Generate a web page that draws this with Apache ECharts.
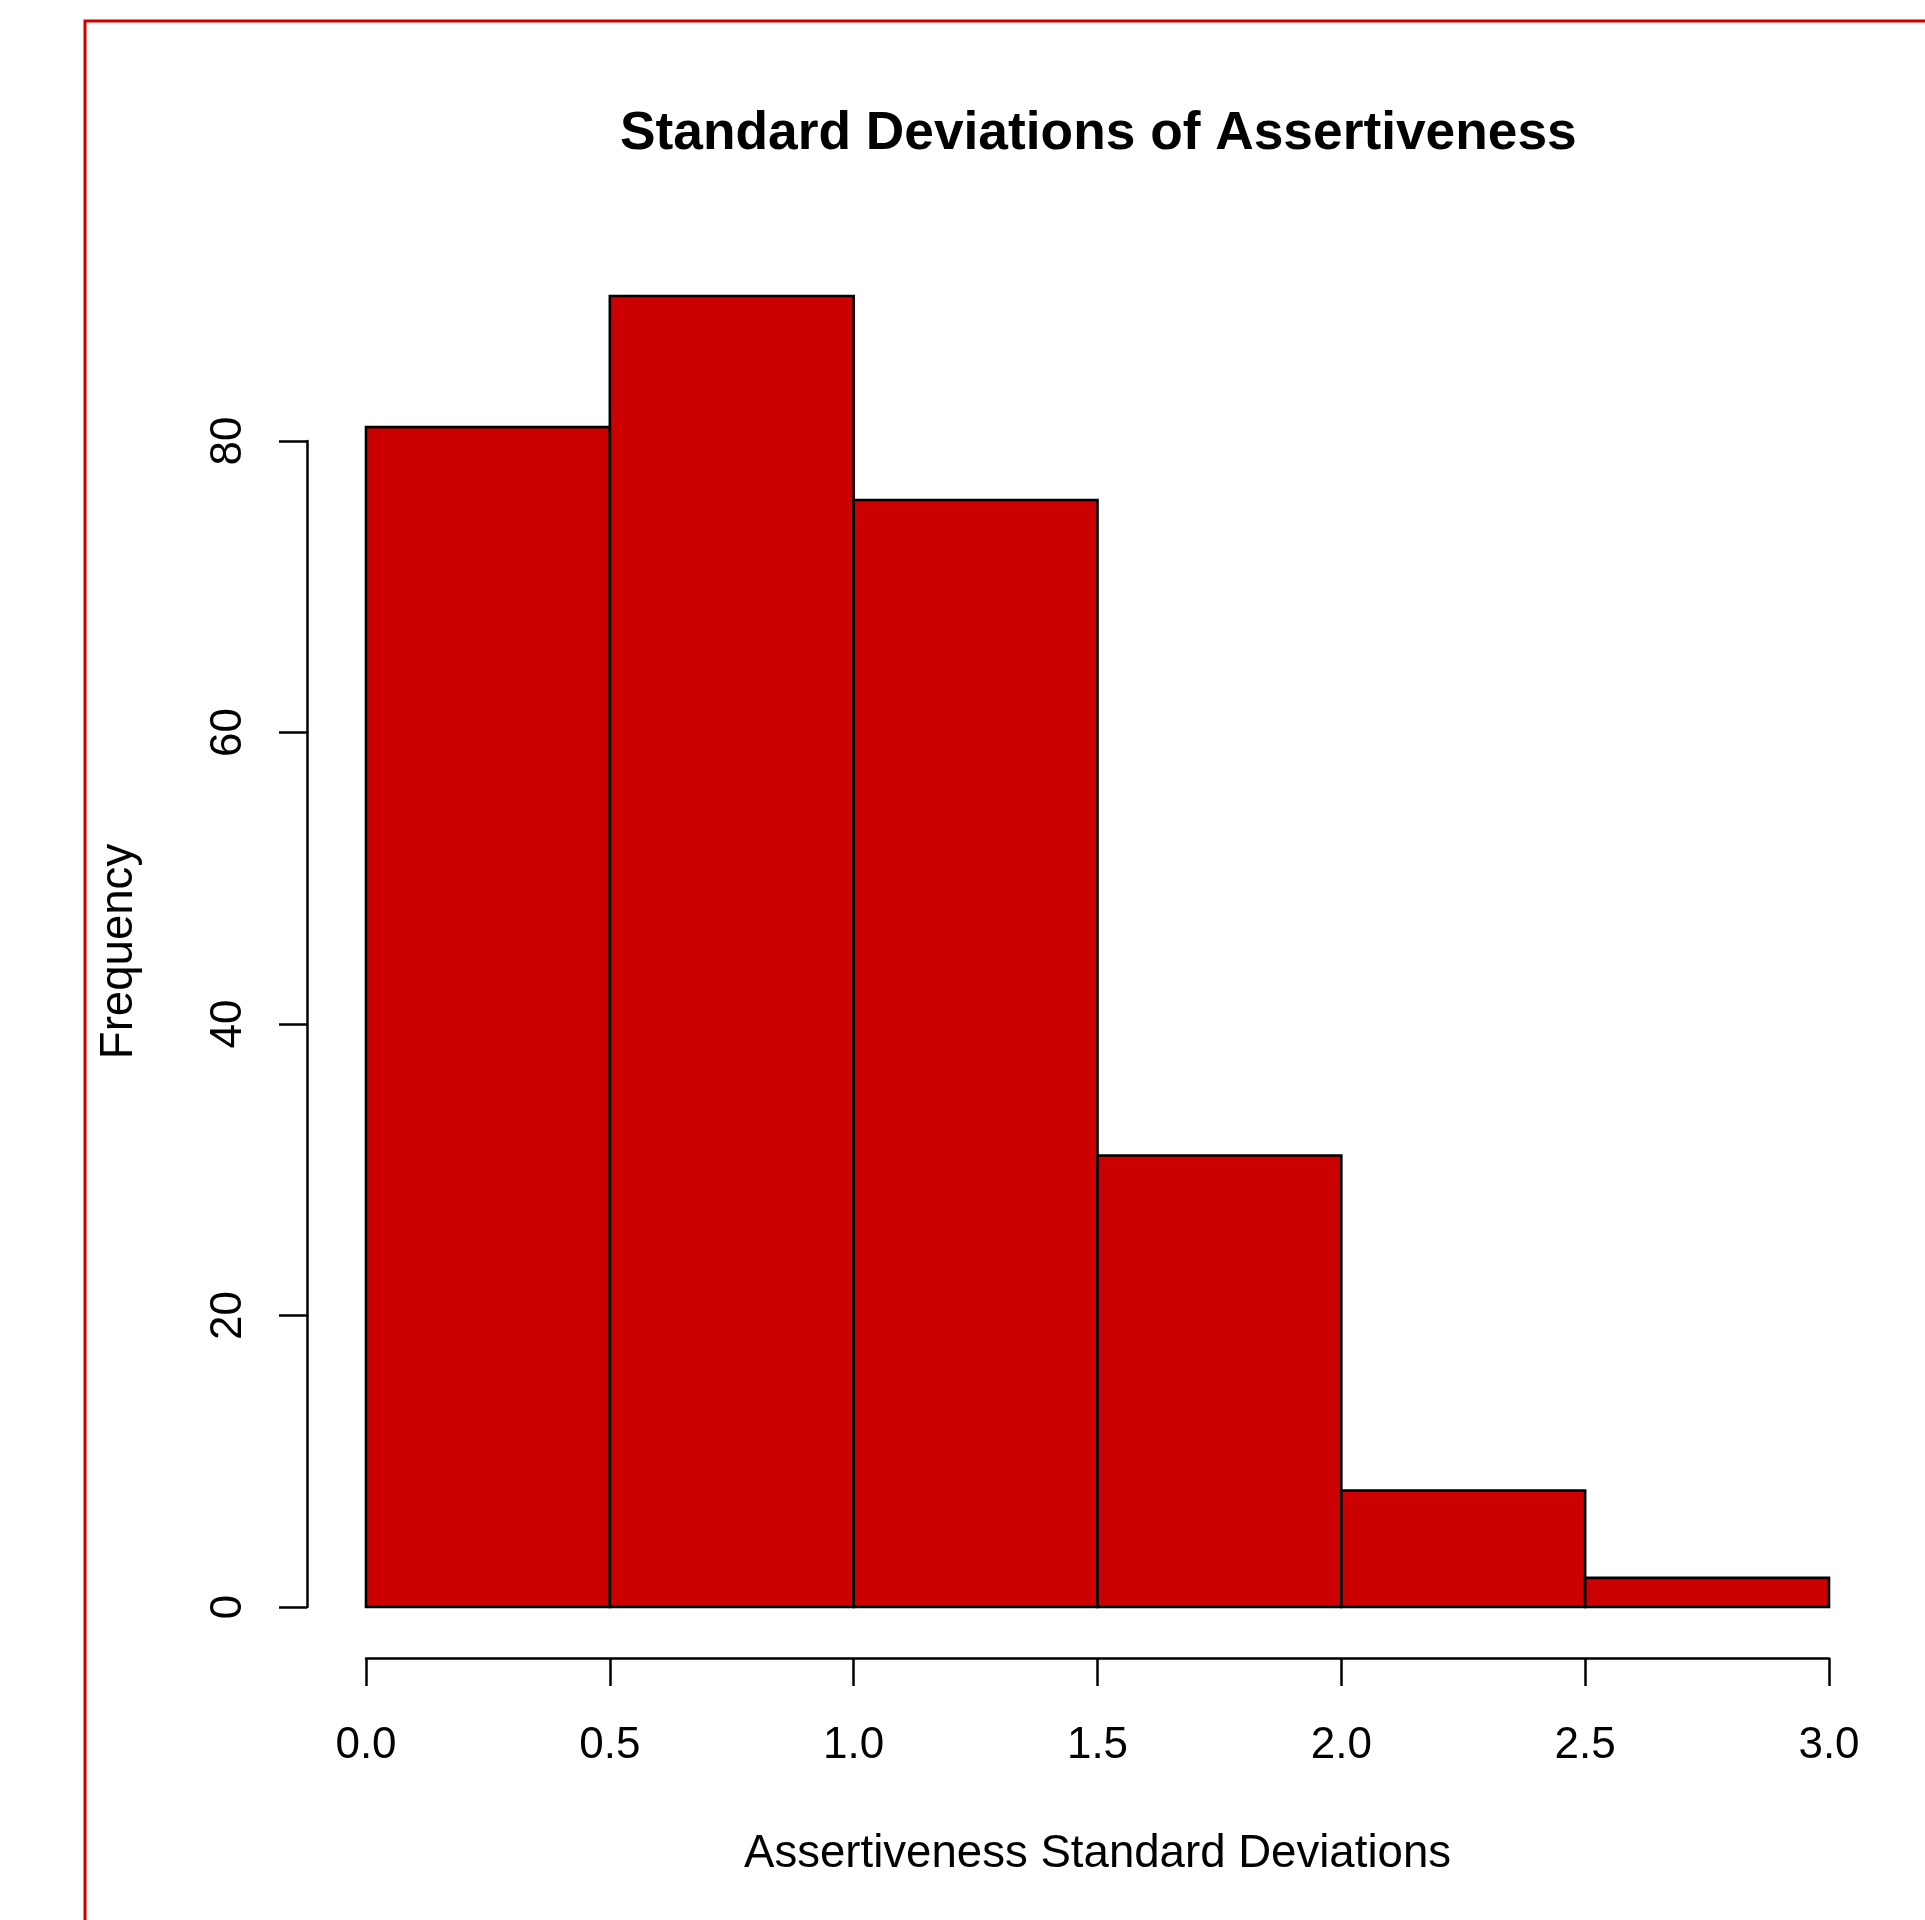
<!DOCTYPE html>
<html><head><meta charset="utf-8">
<script src="https://cdn.jsdelivr.net/npm/echarts@6/dist/echarts.min.js"></script>
<style>html,body{margin:0;padding:0;background:#fff}#c{width:1925px;height:1920px}</style>
</head><body><div id="c"></div>
<script>
const binStarts = [0.0, 0.5, 1.0, 1.5, 2.0, 2.5];
const binEnds = [0.5, 1.0, 1.5, 2.0, 2.5, 3.0];
const counts = [81, 90, 76, 31, 8, 2];
const xTicks = [0.0, 0.5, 1.0, 1.5, 2.0, 2.5, 3.0];
const yTicks = [0, 20, 40, 60, 80];
const titleText = 'Standard Deviations of Assertiveness';
const xTitle = 'Assertiveness Standard Deviations';
const yTitle = 'Frequency';

const FONT = '"Liberation Sans", Helvetica, Arial, sans-serif';
const chart = echarts.init(document.getElementById('c'), null, {renderer: 'canvas'});
const data = binStarts.map((s, i) => [s, binEnds[i], counts[i]]);
const gridLeft = 366, gridRight = 1925 - 1829, gridBottom = 1920 - 1607;
const yMaxPlot = 90;
chart.setOption({
  animation: false,
  backgroundColor: '#ffffff',
  title: {
    text: titleText, left: 620, top: 108, padding: 0,
    textStyle: {fontFamily: FONT, fontWeight: 'bold', fontSize: 53.3, color: '#000'}
  },
  graphic: [{
    type: 'rect', silent: true,
    shape: {x: 85, y: 21, width: 3000, height: 3000},
    style: {fill: 'none', stroke: '#CC0000', lineWidth: 3}
  }],
  grid: [
    {left: gridLeft, right: gridRight, top: 296, bottom: gridBottom},
    {left: gridLeft, right: gridRight, top: 441, bottom: gridBottom}
  ],
  xAxis: [{
    gridIndex: 0, type: 'value', min: xTicks[0], max: xTicks[xTicks.length - 1], interval: 0.5,
    position: 'bottom', offset: 51,
    axisLine: {show: true, onZero: false, lineStyle: {color: '#000', width: 2.5}},
    axisTick: {show: true, length: 28, lineStyle: {color: '#000', width: 2.5}},
    axisLabel: {margin: 66, fontFamily: FONT, fontSize: 44, color: '#000',
      formatter: v => v.toFixed(1)},
    splitLine: {show: false},
    name: xTitle, nameLocation: 'middle', nameGap: 173,
    nameTextStyle: {fontFamily: FONT, fontSize: 45.6, color: '#000'}
  }, {
    gridIndex: 1, type: 'value', min: 0, max: 3, show: false
  }],
  yAxis: [{
    gridIndex: 0, type: 'value', min: 0, max: yMaxPlot,
    axisLine: {show: false, onZero: false}, axisTick: {show: false}, axisLabel: {show: false},
    splitLine: {show: false},
    name: yTitle, nameLocation: 'middle', nameGap: 224, nameRotate: 90,
    nameTextStyle: {fontFamily: FONT, fontSize: 45.6, color: '#000'}
  }, {
    gridIndex: 1, type: 'value', min: yTicks[0], max: yTicks[yTicks.length - 1], interval: 20,
    position: 'left', offset: 59,
    axisLine: {show: true, onZero: false, lineStyle: {color: '#000', width: 2.5}},
    axisTick: {show: true, length: 28, lineStyle: {color: '#000', width: 2.5}},
    axisLabel: {margin: 56, rotate: 90, fontFamily: FONT, fontSize: 44, color: '#000'},
    splitLine: {show: false}
  }],
  series: [{
    type: 'custom', xAxisIndex: 0, yAxisIndex: 0, clip: false,
    data: data,
    encode: {x: [0, 1], y: 2},
    renderItem: function (params, api) {
      const p0 = api.coord([api.value(0), api.value(2)]);
      const p1 = api.coord([api.value(1), 0]);
      return {
        type: 'rect',
        shape: {x: p0[0], y: p0[1], width: p1[0] - p0[0], height: p1[1] - p0[1]},
        style: {fill: '#CC0000', stroke: '#000', lineWidth: 2.6}
      };
    }
  }]
});
</script></body></html>
